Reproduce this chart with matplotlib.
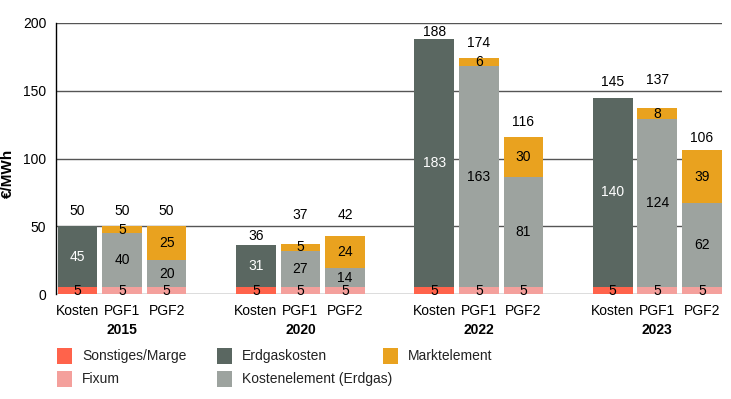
import matplotlib
matplotlib.use("Agg")
import matplotlib.pyplot as plt
from matplotlib.patches import Rectangle
import numpy as np

# ---------------- data ----------------
years = ["2015", "2020", "2022", "2023"]
bar_names = ["Kosten", "PGF1", "PGF2"]

sonstiges_marge = [5, 5, 5, 5]          # Kosten bar, bottom
erdgaskosten = [45, 31, 183, 140]       # Kosten bar, top
fixum_pgf1 = [5, 5, 5, 5]
kostenelement_pgf1 = [40, 27, 163, 124]
marktelement_pgf1 = [5, 5, 6, 8]
fixum_pgf2 = [5, 5, 5, 5]
kostenelement_pgf2 = [20, 14, 81, 62]
marktelement_pgf2 = [25, 24, 30, 39]

total_kosten = [50, 36, 188, 145]
total_pgf1 = [50, 37, 174, 137]
total_pgf2 = [50, 42, 116, 106]

yticks = [0, 50, 100, 150, 200]

# ---------------- style ----------------
C_SONST = "#FF634B"
C_ERDGAS = "#5A6761"
C_MARKT = "#E9A21F"
C_FIXUM = "#F4A09C"
C_KOSTEL = "#9DA39F"

plt.rcParams["font.family"] = ["Liberation Sans", "DejaVu Sans"]
FS = 10

# total label offsets (pixels above bar top), layout only
label_offsets = [[15, 15, 15], [9, 29, 21], [7, 15, 15], [16, 28, 12]]

fig = plt.figure(figsize=(7.31, 3.99), dpi=100)
W, H = 731, 399
ax = fig.add_axes([56 / W, 1 - 294 / H, (722 - 56) / W, (294 - 23) / H])

group_step = 4
width = 0.89
xs = np.arange(len(years)) * group_step

def seg(ax, x, bottom, h, color, txt_color="black"):
    ax.bar(x, h, width, bottom=bottom, color=color, zorder=3, linewidth=0)
    ax.text(x, bottom + h / 2, f"{h}", ha="center", va="center",
            fontsize=FS, color=txt_color, zorder=4)

for g, x0 in enumerate(xs):
    # Kosten
    x = x0
    seg(ax, x, 0, sonstiges_marge[g], C_SONST)
    seg(ax, x, sonstiges_marge[g], erdgaskosten[g], C_ERDGAS, "white")
    top_k = sonstiges_marge[g] + erdgaskosten[g]
    # PGF1
    x = x0 + 1
    seg(ax, x, 0, fixum_pgf1[g], C_FIXUM)
    seg(ax, x, fixum_pgf1[g], kostenelement_pgf1[g], C_KOSTEL)
    b = fixum_pgf1[g] + kostenelement_pgf1[g]
    seg(ax, x, b, marktelement_pgf1[g], C_MARKT)
    top_1 = b + marktelement_pgf1[g]
    # PGF2
    x = x0 + 2
    seg(ax, x, 0, fixum_pgf2[g], C_FIXUM)
    seg(ax, x, fixum_pgf2[g], kostenelement_pgf2[g], C_KOSTEL)
    b = fixum_pgf2[g] + kostenelement_pgf2[g]
    seg(ax, x, b, marktelement_pgf2[g], C_MARKT)
    top_2 = b + marktelement_pgf2[g]

    for i, (top, tot) in enumerate(zip([top_k, top_1, top_2],
                                       [total_kosten[g], total_pgf1[g], total_pgf2[g]])):
        ax.annotate(f"{tot}", xy=(x0 + i, top), xytext=(0, label_offsets[g][i]),
                    textcoords="offset pixels", ha="center", va="center",
                    fontsize=FS, color="black", zorder=5)
    # year label
    ax.annotate(years[g], xy=(x0 + 1, 0), xytext=(0, -36), textcoords="offset pixels",
                ha="center", va="center", fontsize=FS, fontweight="bold",
                annotation_clip=False)

# x ticks
tick_pos = [x0 + i for x0 in xs for i in range(3)]
ax.set_xticks(tick_pos)
ax.set_xticklabels(bar_names * len(years), fontsize=FS)
ax.tick_params(axis="x", length=0, pad=7)

ax.set_xlim(-0.48, xs[-1] + 2 + 0.45)
ax.set_ylim(0, 200)
ax.set_yticks(yticks)
ax.set_yticklabels([str(t) for t in yticks], fontsize=FS)
ax.tick_params(axis="y", length=0, pad=7)

for t in yticks:
    ax.axhline(t, color="#555555", lw=1.0, zorder=1)

for s in ["top", "right", "bottom"]:
    ax.spines[s].set_visible(False)
ax.spines["left"].set_color("black")
ax.spines["left"].set_linewidth(1.0)
ax.spines["left"].set_zorder(6)

ax.set_ylabel("€/MWh", fontsize=11, fontweight="bold")
ax.yaxis.set_label_coords((15 - 56) / 666, (294 - 173) / 271)

# ---------------- legend (manual layout) ----------------
legend_items = [
    ("Sonstiges/Marge", C_SONST, 57, 348),
    ("Fixum", C_FIXUM, 57, 371),
    ("Erdgaskosten", C_ERDGAS, 217, 348),
    ("Kostenelement (Erdgas)", C_KOSTEL, 217, 371),
    ("Marktelement", C_MARKT, 383, 348),
]
for label, color, px, py in legend_items:
    fig.patches.append(Rectangle((px / W, 1 - (py + 16) / H), 15 / W, 16 / H,
                                 transform=fig.transFigure, facecolor=color,
                                 edgecolor="none"))
    fig.text((px + 25) / W, 1 - (py + 8) / H, label, ha="left", va="center",
             fontsize=FS, color="#222222")

fig.savefig("out.png", dpi=100)
